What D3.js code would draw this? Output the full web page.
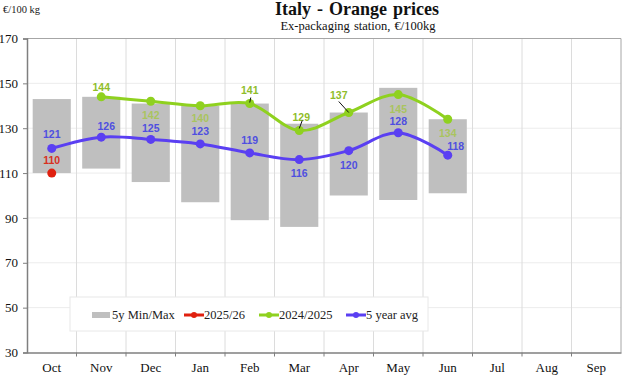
<!DOCTYPE html>
<html>
<head>
<meta charset="utf-8">
<script src="https://cdn.jsdelivr.net/npm/d3@7"></script>
<style>
  body { margin: 0; background: #fff; }
  svg { display: block; }
</style>
</head>
<body>
<div id="chart"></div>
<script>
const months = ["Oct", "Nov", "Dec", "Jan", "Feb", "Mar", "Apr", "May", "Jun", "Jul", "Aug", "Sep"];
const rangeMin = [110, 112, 106, 97, 89, 86, 100, 98, 101];
const rangeMax = [143, 144, 141, 140, 141, 132, 137, 148, 134];
const season2526 = [110];
const season2425 = [null, 144, 142, 140, 141, 129, 137, 145, 134];
const avg5y = [121, 126, 125, 123, 119, 116, 120, 128, 118];
const yTicks = [30, 50, 70, 90, 110, 130, 150, 170];

// label offsets from the point (dx, dy) - layout only
const greenLabelPos = [null, [0, -9], [0, 14], [0, 13], [0, -13], [2, -13], [-10, -17], [0, 15], [0, 14]];
const blueLabelPos = [[0, -14], [5, -11], [0, -11], [0, -13], [0, -13], [0, 14], [0, 15], [0, -11], [8, -9]];
// leader lines for labels pulled away from their point
const leaders = { 4: [[0, -1], [1, -6]], 5: [[0, -2], [3, -10]], 6: [[0, 0], [-10, -11]] };

const width = 627, height = 377;
const margin = { top: 38.5, right: 6, bottom: 24.5, left: 27 };

const svg = d3.select("#chart").append("svg")
  .attr("width", width).attr("height", height);

const x = d3.scaleBand().domain(months).range([margin.left, width - margin.right]).padding(0);
const y = d3.scaleLinear().domain([30, 170]).range([height - margin.bottom, margin.top]);
const cx = (i) => x(months[i]) + x.bandwidth() / 2;

const serif = "'Liberation Serif', 'Times New Roman', serif";
const sans = "'Liberation Sans', Arial, sans-serif";

// gridlines
svg.append("g").selectAll("line")
  .data(yTicks.slice(1, -1))
  .join("line")
  .attr("x1", margin.left).attr("x2", width - margin.right)
  .attr("y1", (d) => y(d)).attr("y2", (d) => y(d))
  .attr("stroke", "#ececec").attr("stroke-width", 1);

svg.append("g").selectAll("line")
  .data(months.slice(1))
  .join("line")
  .attr("x1", (d) => x(d)).attr("x2", (d) => x(d))
  .attr("y1", margin.top).attr("y2", height - margin.bottom)
  .attr("stroke", "#dcdcdc").attr("stroke-width", 1);

// plot border (top and right)
svg.append("path")
  .attr("d", `M${margin.left},${y(170)}H${width - margin.right}V${y(30)}`)
  .attr("fill", "none").attr("stroke", "#a6a6a6").attr("stroke-width", 1);

// min/max bars
const barW = x.bandwidth() * 0.77;
svg.append("g").selectAll("rect")
  .data(rangeMin.map((lo, i) => ({ lo, hi: rangeMax[i], i })))
  .join("rect")
  .attr("x", (d) => cx(d.i) - barW / 2)
  .attr("width", barW)
  .attr("y", (d) => y(d.hi))
  .attr("height", (d) => y(d.lo) - y(d.hi))
  .attr("fill", "#bfbfbf");

// legend (white box, drawn before lines)
const legend = svg.append("g").attr("transform", "translate(70,297)");
legend.append("rect").attr("width", 358).attr("height", 34)
  .attr("fill", "#fff").attr("stroke", "#e8e8e8");
const legItems = [
  { label: "5y Min/Max", color: "#bfbfbf", type: "bar", x: 22 },
  { label: "2025/26", color: "#e0200f", type: "line", x: 114 },
  { label: "2024/2025", color: "#8fd11f", type: "line", x: 189 },
  { label: "5 year avg", color: "#5a3ff2", type: "line", x: 276 },
];
legItems.forEach((d) => {
  const g = legend.append("g").attr("transform", `translate(${d.x},18)`);
  if (d.type === "bar") {
    g.append("rect").attr("x", 0).attr("y", -3).attr("width", 18).attr("height", 6).attr("fill", d.color);
  } else {
    g.append("line").attr("x1", 0).attr("x2", 20).attr("stroke", d.color).attr("stroke-width", 3);
    g.append("circle").attr("cx", 10).attr("r", 3).attr("fill", d.color);
  }
  g.append("text").attr("x", 20).attr("dy", "0.35em")
    .attr("font-family", serif).attr("font-size", 12.5).attr("fill", "#222")
    .text(d.label);
});

// axes
const yAxis = svg.append("g")
  .attr("transform", `translate(${margin.left},0)`)
  .call(d3.axisLeft(y).tickValues(yTicks).tickSize(4).tickPadding(5).tickFormat(d3.format("d")));
const xAxis = svg.append("g")
  .attr("transform", `translate(0,${height - margin.bottom})`)
  .call(d3.axisBottom(x).tickSize(0).tickPadding(10));
xAxis.selectAll(".tick line").remove();
xAxis.append("g").selectAll("line")
  .data(months.slice(1))
  .join("line")
  .attr("x1", (d) => x(d)).attr("x2", (d) => x(d))
  .attr("y1", 0).attr("y2", 4)
  .attr("stroke", "#7f7f7f");
[yAxis, xAxis].forEach((ax) => {
  ax.select(".domain").attr("stroke", "#7f7f7f").attr("stroke-width", 1.5);
  ax.selectAll(".tick line").attr("stroke", "#7f7f7f");
  ax.selectAll("text").attr("font-family", serif).attr("font-size", 13).attr("fill", "#111");
});

// lines
const line = d3.line()
  .defined((d) => d != null)
  .x((d, i) => cx(i))
  .y((d) => y(d))
  .curve(d3.curveCatmullRom.alpha(0));

function drawSeries(values, color, labelColor, pos) {
  const g = svg.append("g");
  g.append("path")
    .datum(values)
    .attr("fill", "none").attr("stroke", color).attr("stroke-width", 3)
    .attr("d", line);
  const pts = values.map((v, i) => ({ v, i })).filter((d) => d.v != null);
  g.selectAll("circle").data(pts).join("circle")
    .attr("cx", (d) => cx(d.i)).attr("cy", (d) => y(d.v))
    .attr("r", 4.5).attr("fill", color);
  g.selectAll("text").data(pts).join("text")
    .attr("x", (d) => cx(d.i) + pos[d.i][0])
    .attr("y", (d) => y(d.v) + pos[d.i][1])
    .attr("dy", "0.35em")
    .attr("text-anchor", "middle")
    .attr("font-family", sans).attr("font-weight", "bold").attr("font-size", 10.5)
    .attr("fill", (d) => typeof labelColor === "function" ? labelColor(d) : labelColor)
    .text((d) => d.v);
  return g;
}

drawSeries(avg5y, "#5a3ff2", "#4f4fe0", blueLabelPos);
const green = drawSeries(season2425, "#8fd11f",
  (d) => greenLabelPos[d.i][1] > 0 ? "#a9c45e" : "#8fbd2a", greenLabelPos);
green.selectAll("line.leader")
  .data(Object.entries(leaders))
  .join("line")
  .attr("class", "leader")
  .attr("x1", ([i, l]) => cx(+i) + l[0][0]).attr("y1", ([i, l]) => y(season2425[+i]) + l[0][1])
  .attr("x2", ([i, l]) => cx(+i) + l[1][0]).attr("y2", ([i, l]) => y(season2425[+i]) + l[1][1])
  .attr("stroke", "#111").attr("stroke-width", 1);
drawSeries(season2526, "#e0200f", "#d8301e", [[0, -13]]);

// titles
svg.append("text").attr("x", 3).attr("y", 13)
  .attr("font-family", serif).attr("font-size", 10.5).attr("fill", "#222")
  .text("€/100 kg");
svg.append("text").attr("x", 357).attr("y", 15).attr("text-anchor", "middle")
  .attr("font-family", serif).attr("font-weight", "bold").attr("font-size", 18)
  .attr("word-spacing", 1.5).attr("fill", "#111")
  .text("Italy  -  Orange prices");
svg.append("text").attr("x", 358).attr("y", 30).attr("text-anchor", "middle")
  .attr("font-family", serif).attr("font-size", 12.5)
  .attr("word-spacing", 1).attr("fill", "#111")
  .text("Ex-packaging station, €/100kg");
</script>
</body>
</html>
